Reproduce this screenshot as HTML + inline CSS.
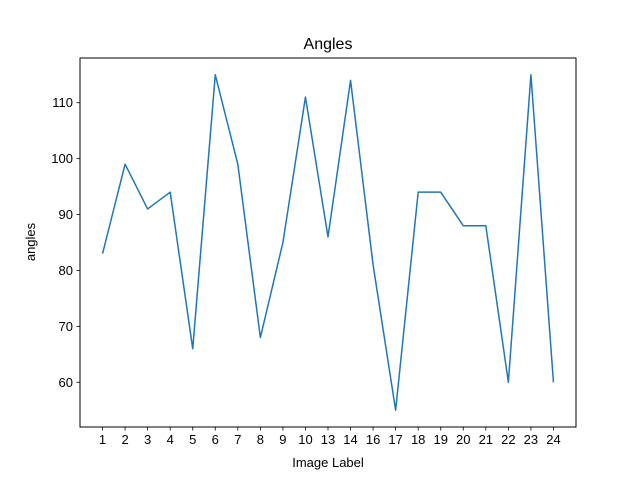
<!DOCTYPE html>
<html><head><meta charset="utf-8"><style>
body{margin:0;background:#fff;}
svg text{font-family:"Liberation Sans","DejaVu Sans",sans-serif;fill:#000;}
</style></head><body>
<svg id="chart" width="640" height="480" xmlns="http://www.w3.org/2000/svg">
<rect width="640" height="480" fill="#fff"/>
<text x="328" y="49" font-size="16" text-anchor="middle">Angles</text>
<g id="plot"></g>
<rect x="80" y="58" width="496" height="369" fill="none" stroke="#000" stroke-width="1"/>
<text x="328" y="467" font-size="13" text-anchor="middle">Image Label</text>
<text transform="translate(35,242) rotate(-90)" font-size="13" text-anchor="middle">angles</text>
</svg>
<script>
const categories=["1","2","3","4","5","6","7","8","9","10","13","14","16","17","18","19","20","21","22","23","24"];
const angles=[83,99,91,94,66,115,99,68,85,111,86,114,81,55,94,94,88,88,60,115,60];
const yTicks=[60,70,80,90,100,110];
const L=80,R=576,T=58,B=427;
const n=categories.length;
const yMin=Math.min(...angles),yMax=Math.max(...angles),pad=(yMax-yMin)*0.05;
const y0=yMin-pad,y1=yMax+pad;
const xs=i=>L+(i+(n-1)*0.05)/((n-1)*1.1)*(R-L);
const ys=v=>B-(v-y0)/(y1-y0)*(B-T);
const NS="http://www.w3.org/2000/svg";
const g=document.getElementById('plot');
function mk(t,a){const e=document.createElementNS(NS,t);for(const k in a)e.setAttribute(k,a[k]);g.appendChild(e);return e;}
categories.forEach((c,i)=>{
 const x=xs(i);
 const t=mk('line',{x1:x,x2:x,y1:B,y2:B+3.5,stroke:'#000','stroke-width':0.8});
 
 
 const l=mk('text',{x:x,y:B+17,'font-size':13,'text-anchor':'middle'});
 l.textContent=c;
 
 
});
yTicks.forEach(v=>{
 const y=ys(v);
 const t=mk('line',{x1:L-3.5,x2:L,y1:y,y2:y,stroke:'#000','stroke-width':0.8});
 
 
 const l=mk('text',{x:L-7,y:y+4.5,'font-size':13,'text-anchor':'end'});
 l.textContent=v;
 
 
});
const p=mk('polyline',{points:angles.map((v,i)=>xs(i)+','+ys(v)).join(' '),fill:'none',stroke:'#1f77b4','stroke-width':1.5,'stroke-linejoin':'round'});


</script>
</body></html>
